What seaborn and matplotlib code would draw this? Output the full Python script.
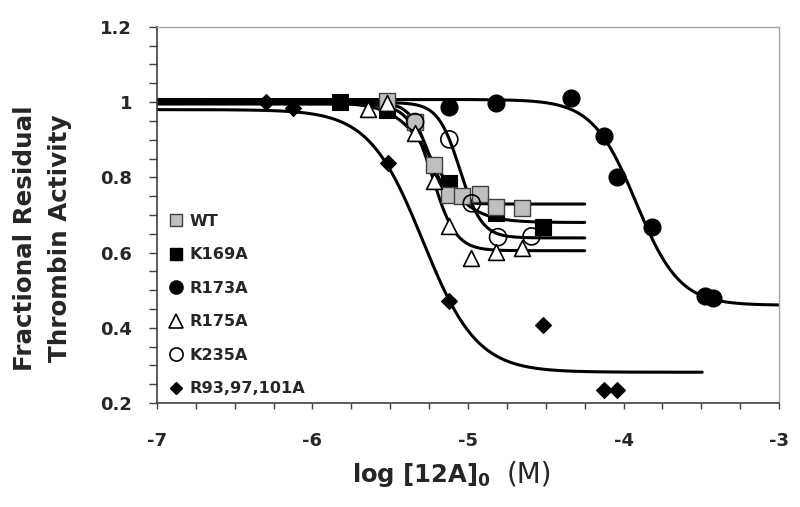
import numpy as np
import matplotlib
matplotlib.use("Agg")
import matplotlib.pyplot as plt
from matplotlib.lines import Line2D
from matplotlib.ticker import MultipleLocator
import seaborn as sns

# measured points (log conc, fractional activity)
wt_x = [-5.52, -5.34, -5.22, -5.12, -5.04, -4.92, -4.82, -4.65]
wt_y = [1.003, 0.947, 0.832, 0.752, 0.751, 0.757, 0.722, 0.718]

k169_x = [-5.82, -5.52, -5.12, -4.82, -4.52]
k169_y = [1.001, 0.978, 0.784, 0.705, 0.669]

r173_x = [-5.12, -4.82, -4.34, -4.125, -4.04, -3.82, -3.475, -3.425]
r173_y = [0.987, 0.998, 1.010, 0.910, 0.800, 0.668, 0.485, 0.479]

r175_x = [-5.645, -5.52, -5.34, -5.22, -5.12, -4.98, -4.82, -4.65]
r175_y = [0.981, 0.997, 0.917, 0.789, 0.672, 0.585, 0.602, 0.611]

k235_x = [-5.34, -5.12, -4.976, -4.807, -4.592]
k235_y = [0.947, 0.901, 0.731, 0.641, 0.643]

r93_x = [-6.296, -6.123, -5.516, -5.122, -4.52, -4.127, -4.04]
r93_y = [1.001, 0.984, 0.837, 0.472, 0.408, 0.235, 0.235]

# logistic fit parameters
names = ["WT", "K169A", "R173A", "R175A", "K235A", "R93,97,101A"]
fit_top = [0.999, 0.999, 1.007, 0.995, 0.999, 0.980]
fit_bottom = [0.729, 0.680, 0.460, 0.605, 0.639, 0.282]
fit_logic50 = [-5.253, -5.22, -3.92, -5.228, -5.051, -5.29]
fit_hill = [7.0, 3.5, 3.1, 5.8, 6.2, 2.5]
fit_end = [-4.25, -4.25, -3.0, -4.25, -4.25, -3.495]

sns.set_style("ticks")
plt.rcParams["font.family"] = ["DejaVu Sans"]
plt.rcParams["mathtext.fontset"] = "dejavusans"

fig = plt.figure(figsize=(8, 5.07), dpi=100)
ax = fig.add_axes([0.196, 0.205, 0.778, 0.742])

for top, bot, ic, h, xe in zip(fit_top, fit_bottom, fit_logic50, fit_hill, fit_end):
    xs = np.linspace(-7, xe, 400)
    ys = bot + (top - bot) / (1 + 10 ** (h * (xs - ic)))
    sns.lineplot(x=xs, y=ys, color="black", linewidth=2.2, ax=ax, zorder=2, sort=False)

styles = [
    (k169_x, k169_y, dict(marker="s", s=125, color="black", edgecolor="black", linewidth=0.8)),
    (wt_x, wt_y, dict(marker="s", s=130, color="#bfbfbf", edgecolor="#404040", linewidth=1.0)),
    (r173_x, r173_y, dict(marker="o", s=150, color="black", edgecolor="black", linewidth=0.8)),
    (k235_x, k235_y, dict(marker="o", s=150, facecolor="none", edgecolor="black", linewidth=1.2)),
    (r175_x, r175_y, dict(marker="^", s=130, color="white", edgecolor="black", linewidth=1.2)),
    (r93_x, r93_y, dict(marker="D", s=66, color="black", edgecolor="black", linewidth=0.8)),
]
for xv, yv, kw in styles:
    sns.scatterplot(x=xv, y=yv, ax=ax, zorder=3, **kw)

ax.set_xlim(-7, -3)
ax.set_ylim(0.2, 1.2)
ax.xaxis.set_minor_locator(MultipleLocator(0.25))
ax.yaxis.set_minor_locator(MultipleLocator(0.05))
ax.set_yticks([0.2, 0.4, 0.6, 0.8, 1.0, 1.2])
ax.set_yticklabels(["0.2", "0.4", "0.6", "0.8", "1", "1.2"])
ax.set_xticks([-7, -6, -5, -4, -3])
ax.set_xticklabels(["-7", "-6", "-5", "-4", "-3"])
ax.tick_params(axis="y", which="both", direction="out", length=5.8, width=1, color="#404040")
ax.tick_params(axis="x", which="both", direction="out", length=4.5, width=1, color="#404040")
ax.tick_params(axis="y", which="major", pad=12, labelsize=13)
ax.tick_params(axis="x", which="major", pad=16, labelsize=13)
for lab in ax.get_xticklabels() + ax.get_yticklabels():
    lab.set_fontweight("bold")

for side in ["left", "bottom"]:
    ax.spines[side].set_color("#404040")
    ax.spines[side].set_linewidth(1.2)
for side in ["top", "right"]:
    ax.spines[side].set_visible(True)
    ax.spines[side].set_color("#a6a6a6")
    ax.spines[side].set_linewidth(1.0)

handles = [
    Line2D([], [], ls="", marker="s", ms=9, mfc="#bfbfbf", mec="#404040", mew=1.0),
    Line2D([], [], ls="", marker="s", ms=9, mfc="black", mec="black"),
    Line2D([], [], ls="", marker="o", ms=9.5, mfc="black", mec="black"),
    Line2D([], [], ls="", marker="^", ms=9.5, mfc="white", mec="black", mew=1.2),
    Line2D([], [], ls="", marker="o", ms=9.5, mfc="none", mec="black", mew=1.2),
    Line2D([], [], ls="", marker="D", ms=6.5, mfc="black", mec="black"),
]
leg = ax.legend(handles, names, loc="upper left", bbox_to_anchor=(0.0203, 0.503),
                frameon=False, borderpad=0, borderaxespad=0, handlelength=0.8,
                handletextpad=0.47, labelspacing=1.15,
                prop={"weight": "bold", "size": 11.6})

ax.set_xlabel("")
ax.set_ylabel("")
fig.text(0.053, 1 - 238 / 507, "Fractional Residual\nThrombin Activity", rotation=90,
         ha="center", va="center", multialignment="center", fontsize=17.7,
         fontweight="bold", linespacing=1.6)
fig.text(352 / 800, 1 - 482 / 507, r"log [12A]$_\mathbf{0}$", ha="left", va="baseline",
         fontsize=17.5, fontweight="bold")
fig.text(507 / 800, 1 - 482 / 507, "(M)", ha="left", va="baseline", fontsize=20)

fig.savefig("out.png", dpi=100)
